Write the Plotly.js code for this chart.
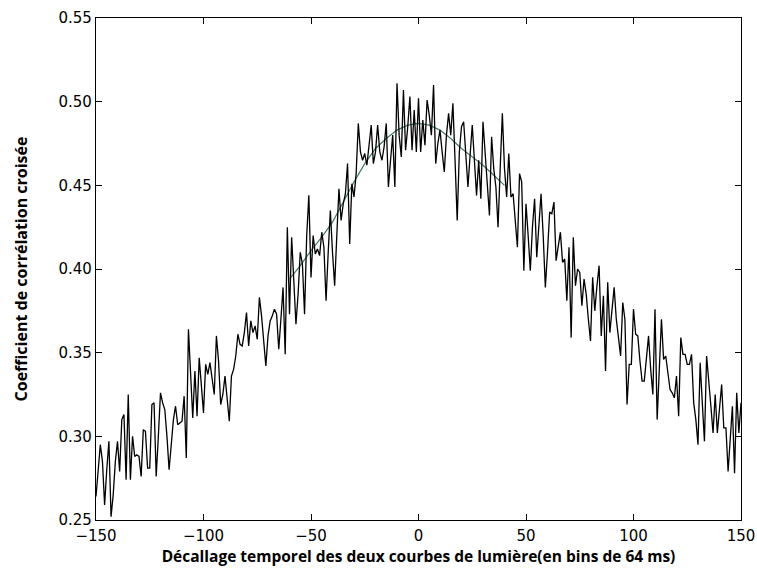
<!DOCTYPE html>
<html>
<head>
<meta charset="utf-8">
<script src="https://cdn.plot.ly/plotly-3.0.1.min.js"></script>
<style>html,body{margin:0;padding:0;background:#fff;}#chart{width:757px;height:571px;}</style>
</head>
<body>
<div id="chart"></div>
<script>
// Lag values (bins of 64 ms)
const lagStart = -150;
const lagEnd = 150;
// Cross-correlation coefficient, one value per integer lag from -150 to 150
const correlation = [
0.264,0.280,0.295,0.285,0.259,0.280,0.297,0.252,0.265,0.285,
0.297,0.279,0.310,0.313,0.274,0.325,0.274,0.300,0.288,0.289,
0.288,0.276,0.304,0.303,0.281,0.281,0.319,0.320,0.276,0.300,
0.326,0.320,0.316,0.300,0.280,0.295,0.310,0.318,0.307,0.308,
0.309,0.324,0.287,0.364,0.340,0.311,0.339,0.312,0.347,0.330,
0.314,0.343,0.337,0.344,0.335,0.325,0.360,0.345,0.319,0.325,
0.336,0.320,0.309,0.336,0.340,0.348,0.361,0.355,0.354,0.362,
0.374,0.354,0.369,0.362,0.366,0.358,0.383,0.372,0.355,0.342,
0.360,0.369,0.372,0.376,0.373,0.352,0.370,0.389,0.349,0.425,
0.373,0.419,0.393,0.367,0.385,0.410,0.403,0.373,0.420,0.444,
0.395,0.420,0.409,0.412,0.408,0.422,0.413,0.381,0.410,0.435,
0.410,0.390,0.420,0.448,0.429,0.439,0.445,0.463,0.415,0.451,
0.443,0.457,0.487,0.470,0.465,0.469,0.462,0.475,0.486,0.463,
0.470,0.486,0.470,0.465,0.473,0.487,0.449,0.465,0.480,0.449,
0.511,0.480,0.467,0.507,0.471,0.485,0.503,0.471,0.495,0.470,
0.502,
0.470,0.489,0.474,0.501,0.492,0.480,0.510,0.463,0.475,0.483,
0.470,0.458,0.480,0.493,0.480,0.499,0.465,0.429,0.470,0.485,
0.488,0.470,0.449,0.468,0.486,0.465,0.444,0.465,0.442,0.488,
0.470,0.450,0.432,0.479,0.460,0.449,0.425,0.460,0.493,0.460,
0.443,0.469,0.443,0.445,0.430,0.413,0.457,0.452,0.399,0.439,
0.420,0.399,0.425,0.442,0.407,0.425,0.445,0.420,0.389,0.410,
0.434,0.433,0.440,0.405,0.415,0.422,0.404,0.406,0.381,0.413,
0.359,0.419,0.390,0.400,0.398,0.378,0.394,0.385,0.370,0.357,
0.395,0.375,0.390,0.402,0.360,0.384,0.339,0.392,0.362,0.375,
0.389,0.370,0.360,0.348,0.380,0.370,0.319,0.343,0.343,0.376,
0.361,0.360,0.345,0.333,0.333,0.345,0.360,0.340,0.325,0.376,
0.310,0.340,0.370,0.346,0.348,0.338,0.328,0.326,0.323,0.336,
0.312,0.359,0.349,0.349,0.343,0.343,0.349,0.320,0.310,0.295,
0.344,0.320,0.297,0.348,0.330,0.318,0.302,0.325,0.302,0.315,
0.331,0.305,0.305,0.279,0.300,0.318,0.278,0.326,0.302,0.320
];
// Smooth fitted curve, read every 5 lags
const fitLags = [-60,-55,-50,-45,-40,-35,-30,-25,-20,-15,-10,-5,0,5,10,15,20,25,30,35,40];
const fitValues = [0.394,0.402,0.411,0.419,0.428,0.440,0.452,0.463,0.472,0.478,0.483,0.486,0.487,0.486,0.483,0.478,0.472,0.467,0.462,0.456,0.450];

const xTitle = "Décallage temporel des deux courbes de lumière(en bins de 64 ms)";
const yTitle = "Coefficient de corrélation croisée";

const lags = [];
for (let k = lagStart; k <= lagEnd; k++) lags.push(k);

const traces = [
  {x: fitLags, y: fitValues, mode: 'lines', line: {color: '#3f7a68', width: 1.2}, hoverinfo: 'skip'},
  {x: lags, y: correlation, mode: 'lines', line: {color: '#000000', width: 1.3}}
];

const axisCommon = {
  showgrid: false, zeroline: false, showline: true, linecolor: '#000', linewidth: 1.2,
  mirror: 'ticks', ticks: 'inside', ticklen: 6, tickwidth: 1, tickcolor: '#000',
  tickfont: {family: 'DejaVu Sans', size: 15, color: '#000'}
};

const layout = {
  width: 757, height: 571,
  margin: {l: 96, r: 16, t: 18, b: 51},
  paper_bgcolor: '#fff', plot_bgcolor: '#fff',
  showlegend: false,
  xaxis: Object.assign({}, axisCommon, {
    range: [-150, 150], tickvals: [-150,-100,-50,0,50,100,150], ticklabelstandoff: 2,
    title: {text: xTitle, font: {family: 'Open Sans', size: 15.5, color: '#000', weight: 'bold'}, standoff: 7}
  }),
  yaxis: Object.assign({}, axisCommon, {
    range: [0.25, 0.55], dtick: 0.05, tickformat: '.2f',
    title: {text: yTitle, font: {family: 'Open Sans', size: 16, color: '#000', weight: 'bold'}, standoff: 26}
  })
};

Plotly.newPlot('chart', traces, layout, {displayModeBar: false, staticPlot: true});
</script>
</body>
</html>
